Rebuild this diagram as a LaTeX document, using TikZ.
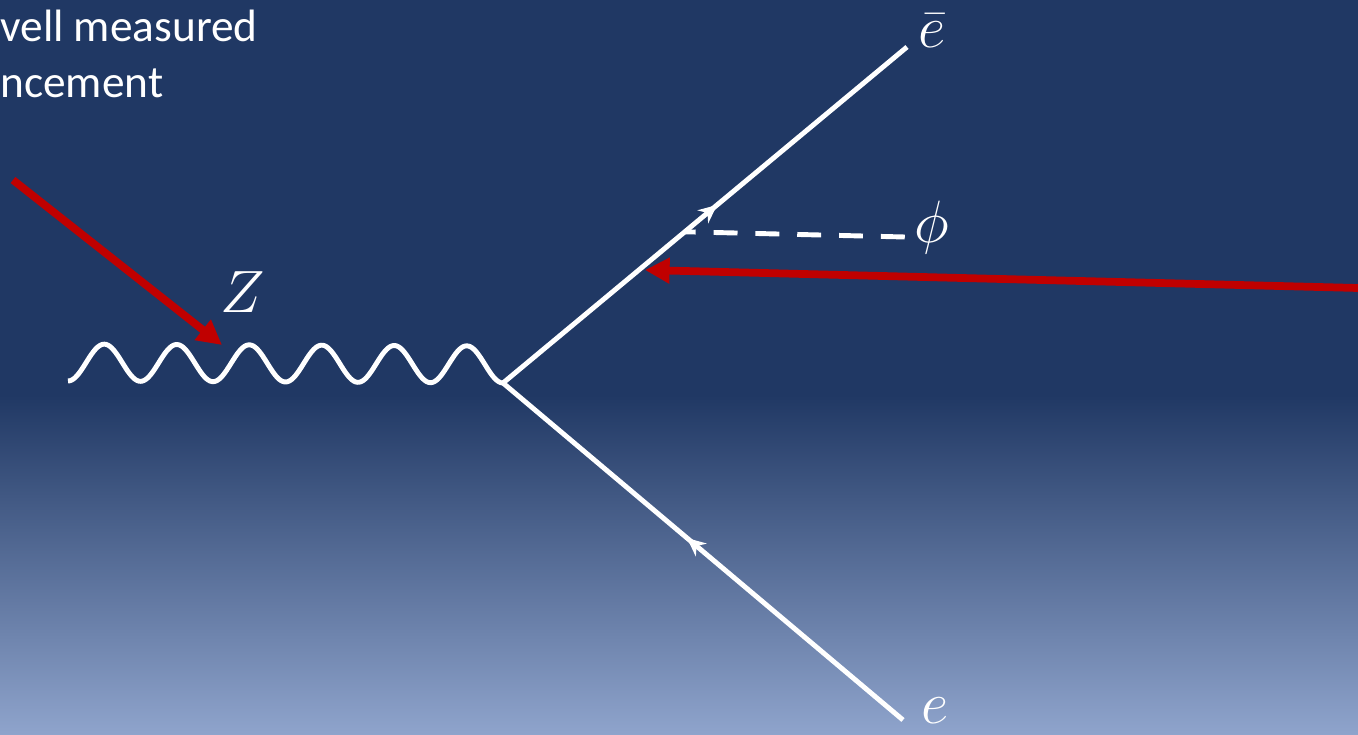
\RequirePackage{fix-cm}
\documentclass[tikz,border=0pt]{standalone}
\usepackage{fontspec}
\newfontfamily\slidefont{Carlito}
\usetikzlibrary{positioning,arrows.meta,calc,decorations.markings}
\definecolor{slideblue}{RGB}{32,56,100}
\definecolor{slidelight}{RGB}{143,164,204}
\definecolor{lhcred}{RGB}{192,0,0}
\tikzset{
  fermion/.style={white,line width=2.8pt,postaction={decorate},
    decoration={markings,mark=at position #1 with
      {\arrow{Stealth[length=10.5pt,width=9.5pt]}}}},
  fermion/.default=0.53,
  photon/.style={white,line width=2.8pt,line join=round},
  scalar/.style={white,line width=2.8pt,
    dash pattern=on 13.6pt off 10.2pt,dash phase=7.4pt},
  pointer/.style={lhcred,line width=4.4pt,
    -{Triangle[length=14pt,width=14pt]}},
  lbl/.style={text=white,font=\fontsize{34}{40}\selectfont,inner sep=0pt},
  note/.style={text=white,font=\slidefont\fontsize{25.8}{30}\selectfont,
    inner sep=0pt,anchor=base west}
}
\begin{document}
\begin{tikzpicture}
  % ---- background ----
  \useasboundingbox (0,0) rectangle (27.16,-14.7);
  \fill[slideblue] (0,0) rectangle (27.16,-7.9);
  \shade[top color=slideblue,bottom color=slidelight]
    (0,-7.9) rectangle (27.16,-14.7);

  % ---- slide text ----
  \node[note] (txt1) at (0,-0.84) {vell measured};
  \node[note] (txt2) at (0,-1.96) {ncement};

  % ---- diagram ----
  \coordinate (vtx) at (10.06,-7.66);
  \coordinate (ebE) at (18.14,-0.94);
  \coordinate (eE) at (18.06,-14.40);
  \coordinate (zL) at (1.36,-7.62);
  \coordinate (phiA) at ($(vtx)!0.45!(ebE)$);
  \coordinate (phiE) at (18.10,-4.74);

  % photon: 6 waves from zL to vtx (period 8.7/6)
  \draw[photon] (zL) plot[domain=1.36:10.06,samples=240]
    (\x,{-7.62-0.0046*(\x-1.36)+0.37-0.37*cos(248.276*(\x-1.36))});
  \draw[fermion] (vtx) -- (ebE);
  \draw[fermion=0.54] (eE) -- (vtx);
  \draw[scalar] (phiA) -- (phiE);

  \node[lbl] (lZ) at (4.86,-5.84) {$Z$};
  \node[lbl] (lEb) at (18.64,-0.62) {$\bar{e}$};
  \node[lbl] (lPhi) at (18.64,-4.56) {$\phi$};
  \node[lbl] (lE) at (18.70,-14.22) {$e$};

  % ---- red pointers ----
  \coordinate (rA1) at (0.26,-3.60);
  \coordinate (rB1) at (4.44,-6.90);
  \coordinate (rA2) at (27.16,-5.76);
  \coordinate (rB2) at (12.90,-5.40);
  \draw[pointer] (rA1) -- (rB1);
  \draw[pointer] (rA2) -- (rB2);
\end{tikzpicture}
\end{document}
